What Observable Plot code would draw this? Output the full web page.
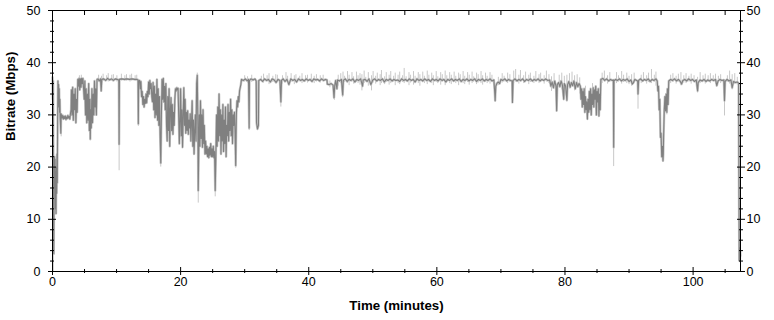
<!DOCTYPE html>
<html>
<head>
<meta charset="utf-8">
<script src="https://cdn.jsdelivr.net/npm/d3@7"></script>
<script src="https://cdn.jsdelivr.net/npm/@observablehq/plot@0.6"></script>
<style>
  html, body { margin: 0; padding: 0; background: #fff; }
  #chart { width: 774px; height: 320px; }
</style>
</head>
<body>
<div id="chart"></div>
<script>
// Smoothed bitrate series: [time (minutes), bitrate (Mbps)]
const bitrate = [
  [0,37.2],[0.05,33],[0.1,36.5],[0.15,14],[0.2,3.4],[0.25,18],[0.3,22],[0.35,16],[0.4,21.5],[0.45,12],
  [0.5,19],[0.55,11.1],[0.6,20],[0.65,15],[0.7,22.5],[0.75,17],[0.8,29],[0.85,36.5],[0.9,32],[0.95,35.8],
  [1.0,31.5],[1.05,35],[1.1,30.5],[1.15,33],[1.2,29.5],[1.3,26.5],[1.35,30.2],
  [1.5,29.4],[1.6,29.9],[1.7,29.2],[1.8,29.7],[1.9,29.3],[2.0,29.8],[2.1,29.1],[2.2,29.6],[2.3,29.3],
  [2.4,29.9],[2.5,29.4],[2.6,29.7],[2.7,29.2],[2.8,30.2],[2.9,31],
  [2.95,34.8],[3.05,30],[3.15,35.3],[3.25,29],[3.35,34],[3.45,31],[3.55,35],[3.65,28.5],[3.75,33],[3.85,30.5],
  [3.95,36.8],[4.05,35.5],[4.15,37],[4.25,34.8],[4.35,36.9],[4.45,35.3],[4.55,37],[4.65,36],[4.75,37],[4.85,35],
  [4.95,33],[5.05,36.5],[5.15,30],[5.25,35],[5.35,28.5],[5.45,34],[5.55,29],[5.65,36],[5.75,27],[5.85,33],
  [5.9,25.4],[5.95,31],[6.05,27.5],[6.15,35],[6.25,28.5],[6.35,34],[6.45,30],[6.55,36.5],[6.65,31.5],[6.75,35],
  [6.85,30],[6.95,36.8],
  [7.1,36.9],[7.3,36.5],[7.5,36.9],[7.6,34.6],[7.7,36.8],[8.0,36.9],[8.3,36.6],[8.6,37],[8.9,36.7],[9.2,36.9],
  [9.5,36.6],[9.8,36.9],[10.1,36.8],[10.35,36.7],[10.4,24.4],[10.45,36.8],[10.8,36.9],[11.2,36.8],[11.6,36.9],
  [12,36.8],[12.4,36.9],[12.8,36.8],[13.2,36.8],[13.35,36.7],[13.4,28.3],[13.45,36.5],
  [13.6,36.6],[13.7,35],[13.8,36.4],[13.9,33.5],[14.0,34.5],[14.1,32],[14.2,33.5],[14.3,31.5],[14.4,33],[14.5,32.2],
  [14.6,34],[14.7,32.3],[14.8,34.5],[14.9,33.5],[15.0,36.3],[15.1,34],[15.2,36.6],[15.3,35],[15.4,36],[15.5,33.5],
  [15.6,32.5],[15.7,36.2],[15.8,31],[15.9,35.5],[16.0,29.5],[16.1,34],[16.2,30],[16.3,36.8],[16.4,29],[16.5,35],
  [16.6,28],[16.7,33.5],[16.8,26],[16.9,20.8],[17.0,30],[17.1,36.8],[17.2,33],[17.3,37],[17.4,32.5],[17.5,35.5],
  [17.6,31],[17.7,36],[17.8,28],[17.9,25],[18.0,33.5],[18.1,27],[18.2,35],[18.3,24],[18.4,31],[18.5,33.3],
  [18.6,27],[18.7,32],[18.8,26.3],[18.9,30.5],[19.0,28],[19.1,33],[19.2,35],[19.3,34.6],[19.4,35.2],[19.5,34.8],
  [19.6,35.1],[19.7,30],[19.8,24.5],[19.9,29],[20.0,35],[20.1,26],[20.2,31],[20.3,23.8],[20.4,30],[20.5,35.2],
  [20.6,28],[20.7,33],[20.8,26.5],[20.9,30.5],[21.0,27],[21.1,30.8],[21.2,26.3],[21.3,29],[21.4,27.5],[21.5,30.2],
  [21.6,25],[21.7,28.5],[21.8,32.7],[21.9,24],[22.0,29],[22.1,22.5],[22.2,27],[22.3,30],[22.4,25],[22.5,36],
  [22.6,37.6],[22.7,28],[22.75,15.5],[22.8,20],[22.9,30],[23.0,24],[23.1,32.7],[23.2,25.5],[23.3,30],[23.4,23.8],
  [23.5,31],[23.6,24.5],[23.7,28],[23.8,22.5],[23.9,25],[24.0,22.5],[24.1,24],[24.2,22],[24.3,23.5],[24.4,21.8],
  [24.5,23.8],[24.6,22.3],[24.7,24.5],[24.8,22],[24.9,23.5],[25.0,22],[25.1,24],[25.2,21.8],[25.3,23],[25.4,15.5],
  [25.5,22],[25.6,30],[25.7,24],[25.8,31.5],[25.9,25],[26.0,34],[26.1,26],[26.2,31],[26.3,22.5],[26.4,30],
  [26.5,25],[26.6,32],[26.7,23],[26.8,29],[26.9,24.5],[27.0,31.5],[27.1,22],[27.2,28],[27.3,26],[27.4,32],
  [27.5,25],[27.6,30.5],[27.7,27],[27.8,33],[27.9,26],[28.0,31],[28.1,24.5],[28.2,30],[28.3,28],[28.4,30.5],
  [28.5,27],[28.6,20.3],[28.7,30],[28.8,32.7],[28.9,31.5],[29.0,33.5],[29.1,32.5],[29.2,34.6],[29.3,35.2],[29.4,35.8],
  [29.5,36.8],[29.8,36.6],[30.1,36.9],[30.4,36.5],[30.6,36.8],[30.7,27.5],[30.75,36.6],[31.0,36.9],[31.3,36.7],[31.6,36.9],
  [31.8,36.5],[31.85,28.5],[32.0,27.3],[32.15,28],[32.2,36.6],[32.5,36.8],[32.8,36.4],[33.1,36.9],[33.4,36.6],[33.7,36.8],
  [34.0,36.3],[34.3,36.9],[34.6,36.7],[34.9,36.2],[35.2,36.8],[35.5,36.6],[35.65,32.5],[35.75,36.6],[36.0,36.9],[36.3,36.4],
  [36.6,36.8],[36.9,35.8],[37.2,36.9],[37.5,36.6],[37.8,36.8],[38.1,36.3],[38.4,36.9],[38.7,36.6],[39.0,36.8],[39.3,36.5],
  [39.6,36.9],[39.9,36.6],[40.2,36.8],[40.5,36.4],[40.8,36.9],[41.1,36.7],[41.4,36.8],[41.7,36.5],[42.0,36.9],[42.3,36.6],
  [42.6,36.8],[42.85,36.7],[42.9,35.9],[43.2,35.8],[43.5,36],[43.8,35.7],[43.95,33.3],[44.05,35.5],[44.2,36.6],[44.4,35],
  [44.5,36.7],[44.8,36.5],[45.1,36.8],[45.3,33.8],[45.4,36.6],[45.7,36.9],[46.0,36.4],[46.3,36.8],[46.6,36.6],[46.9,36.9],
  [47.2,36.3],[47.5,36.8],[47.8,36.6],[48.1,36.9],[48.4,35.5],[48.5,36.7],[48.8,36.8],[49.1,36.4],[49.4,36.9],[49.7,35.8],
  [50.0,36.7],[50.3,36.9],[50.6,36.5],[50.9,36.8],[51.2,36.6],[51.5,36.9],[51.8,36.3],[52.1,36.8],[52.4,36.6],[52.7,36.9],
  [53.0,36.5],[53.3,36.8],[53.6,36.6],[53.9,36.7],[54.2,36.4],[54.5,36.9],[54.8,36.6],[55.1,36.8],[55.4,36.5],[55.7,36.9],
  [56.0,36.6],[56.3,36.8],[56.6,36.3],[56.9,36.9],[57.2,36.6],[57.5,36.8],[57.8,36.5],[58.1,36.9],[58.4,36.6],[58.7,36.8],
  [59.0,36.4],[59.3,36.9],[59.6,36.6],[59.9,36.8],[60.2,36.5],[60.5,36.9],[60.8,36.6],[61.1,36.8],[61.4,36.3],[61.7,36.8],
  [62.0,36.6],[62.3,36.9],[62.6,36.5],[62.9,36.8],[63.2,36.6],[63.5,36.9],[63.8,36.4],[64.1,36.8],[64.4,36.6],[64.7,36.9],
  [65.0,36.5],[65.3,36.8],[65.6,36.6],[65.9,36.9],[66.2,36.4],[66.5,36.8],[66.8,36.6],[67.1,36.9],[67.4,36.5],[67.7,36.8],
  [68.0,36.6],[68.3,36.9],[68.6,36.5],[68.9,36.7],[69.05,34],[69.1,32.7],[69.2,35.5],[69.4,36.1],[69.6,36.3],[69.8,36.0],
  [70.0,36.8],[70.3,36.6],[70.6,36.9],[70.9,36.5],[71.2,36.8],[71.5,36.6],[71.75,36.5],[71.8,32.4],[71.9,36.6],[72.2,36.9],
  [72.5,36.5],[72.8,36.8],[73.1,36.6],[73.4,36.9],[73.7,36.4],[74.0,36.8],[74.3,36.6],[74.6,36.9],[74.9,36.5],[75.2,36.8],
  [75.5,36.6],[75.8,36.9],[76.1,36.5],[76.4,36.8],[76.7,36.6],[77.0,36.9],[77.3,36.6],[77.6,36.7],[77.8,35.5],[78.0,36.3],
  [78.2,35.2],[78.4,36.5],[78.6,35.5],[78.7,30.8],[78.8,35.8],[79.0,36.2],[79.2,35.4],[79.4,36.5],[79.6,35.7],[79.8,33],
  [79.9,36],[80.1,35.5],[80.3,32.8],[80.4,35.8],[80.6,36.4],[80.8,35.3],[81.0,36.2],[81.2,35.6],[81.4,36.5],[81.6,35],
  [81.8,36.2],[82.0,35.4],[82.2,36],[82.4,35.5],[82.5,33],[82.6,35],[82.7,31.5],[82.8,34.5],[82.9,32],[83.0,35],
  [83.1,30.5],[83.2,33.5],[83.3,31],[83.4,32.5],[83.5,29.2],[83.6,33],[83.7,30.5],[83.8,34.5],[83.9,31],[84.0,35],
  [84.1,30],[84.2,34],[84.3,32],[84.4,35.2],[84.5,31.5],[84.6,34.8],[84.7,33],[84.8,35.5],[84.9,30],[85.0,34.5],
  [85.1,32.5],[85.2,35],[85.3,29.8],[85.4,34],[85.5,31],[85.6,36.8],[85.9,37],[86.2,36.6],[86.5,36.9],[86.8,36.5],
  [87.1,36.8],[87.4,36.6],[87.55,36.7],[87.6,23.8],[87.65,36.5],[87.9,36.8],[88.2,36.6],[88.5,36.9],[88.8,36.5],[89.1,36.8],
  [89.4,36.6],[89.7,36.9],[90.0,36.4],[90.3,36.7],[90.5,35.9],[90.7,36.2],[90.9,36.8],[91.2,36.6],[91.35,36.5],[91.4,34],
  [91.5,36.6],[91.8,36.9],[92.1,36.5],[92.4,36.8],[92.7,36.6],[93.0,36.9],[93.3,36.4],[93.6,36.8],[93.9,36.6],[94.2,36.9],
  [94.4,36.5],[94.5,34.6],[94.6,35.5],[94.7,31],[94.8,33],[94.9,25.7],[95.0,26.5],[95.1,22],[95.2,24],[95.3,21.2],
  [95.35,22.5],[95.4,26],[95.5,31],[95.6,33.5],[95.7,30.8],[95.8,34],[95.9,30.5],[96.0,35],[96.1,32],[96.2,36.5],
  [96.5,36.8],[96.8,36.6],[97.1,36.9],[97.4,36.5],[97.7,36.8],[98.0,36.4],[98.2,35.9],[98.4,36.6],[98.7,36.8],[99.0,36.5],
  [99.3,36.9],[99.6,36.6],[99.9,36.8],[100.2,36.4],[100.5,36.7],[100.7,34.6],[100.8,36.2],[101.1,36.7],[101.4,36.5],[101.7,36.8],
  [102.0,36.4],[102.3,36.7],[102.6,36.5],[102.9,36.8],[103.2,36.6],[103.5,36.8],[103.7,35.6],[103.9,36.5],[104.2,36.8],[104.5,36.6],
  [104.8,36.7],[104.9,32.7],[105.0,36.4],[105.3,36.8],[105.6,36.5],[105.9,36.7],[106.1,35.2],[106.3,36.4],[106.6,36.2],[106.9,36.3],
  [107.1,36.1],[107.2,2.1],[107.25,4.6],[107.3,2],[107.35,4],[107.4,3]
];

// Raw (unsmoothed) excursions: [time (minutes), low (Mbps), high (Mbps)]
const rawSpikes = [
  [0.12,0,5],[1.35,25.8,30],[5.9,25,28],[10.4,19.3,26],[13.4,27.8,30],[16.9,20,23],[22.75,13.1,17],[25.4,14.3,17],
  [28.6,19.8,22],[30.7,27,30],[32.0,27,29],[35.65,31.5,34],[44.0,32.8,35],[45.3,33.3,35],
  [4.2,36,37.5],[4.5,36,37.6],[22.6,36.5,38],
  [7.2,36.3,37.6],[7.65,36,37.4],[7.9,36.4,37.8],[8.45,36.5,37.5],[8.7,36.3,37.9],[9.25,36.5,37.6],[9.5,36.4,37.7],
  [10.05,36.3,37.5],[10.75,36.5,37.8],[11.3,36.4,37.5],[11.55,36.5,37.7],[12.1,36.3,37.6],[12.35,36.5,37.8],[12.9,36.4,37.5],[13.15,36.5,37.6],
  [30.0,36.3,37.5],[30.45,36,37.3],[31.1,36.2,37.6],[32.6,36.4,37.4],[32.95,36.1,37.8],[33.5,36.3,37.5],[33.8,35.8,37.9],[34.4,36.2,37.4],
  [34.85,36,37.7],[35.1,36.4,37.6],[35.9,35.9,37.5],[36.45,36.2,38.1],[36.7,36,37.4],[37.25,36.3,37.9],[37.75,35.8,37.5],[38.0,36.2,37.7],
  [38.6,36.4,37.4],[38.95,36,37.9],[39.5,36.3,37.5],[39.8,36.1,37.6],[40.4,36.4,37.8],[40.85,36,37.4],[41.2,36.3,37.7],[41.8,36.1,37.5],
  [42.25,36.4,37.6],[43.3,35.2,36.5],[44.6,35.5,37.6],
  [45.0,36,37.9],[45.35,35.9,38.2],[45.6,36.2,37.4],[46.05,36,38.3],[46.3,35.6,37.6],[46.75,36.3,38.1],[47.0,35.9,37.3],[47.45,36.2,38.2],
  [47.7,36,37.5],[48.0,35.7,37.9],[48.3,34.6,37.7],[48.65,36,38.4],[48.9,36.3,37.2],[49.3,35.5,38.1],[49.8,34.6,37.5],[50.05,36.1,38.3],
  [50.45,35.9,37.4],[50.7,36.3,38],[51.15,35.6,37.7],[51.35,36,38.5],[51.85,35.8,37.3],[52.1,36.2,38.1],[52.55,35.7,37.6],[52.8,36,38.3],
  [53.25,36.3,37.4],[53.5,35.6,38],[53.95,36,37.6],[54.2,35.8,38.2],[54.65,36.2,37.5],[54.9,36,38.9],[55.2,36.3,37.3],[55.65,35.6,38.1],
  [55.9,36.1,37.6],[56.35,35.7,38.3],[56.6,36.3,37.4],[57.1,36,38.1],[57.35,35.5,37.7],[57.8,36.2,38.2],[58.05,36,37.4],[58.5,35.8,38.4],
  [58.75,36.3,37.6],[59.2,36,38],[59.45,35.6,37.5],[59.9,36.2,38.3],[60.15,36,37.3],[60.6,35.7,38.1],[60.85,36.3,37.7],[61.3,35.6,38.4],
  [61.55,36.2,37.5],[62.0,36,38.1],[62.25,35.8,37.6],[62.7,36.2,38.2],[62.95,36,37.4],[63.4,35.6,38],[63.65,36.3,37.7],[64.1,36,38.3],
  [64.35,35.8,37.4],[64.8,36.2,38.1],[65.05,35.7,37.6],[65.5,36,38.2],[65.75,36.3,37.3],[66.2,35.8,38],[66.45,36.1,37.7],[66.9,36,38.3],
  [67.15,35.7,37.5],[67.6,36.2,38],[67.85,36,37.4],[68.3,35.9,38.1],[68.6,36.2,37.6],[69.6,35.6,37.2],
  [70.2,36.1,37.9],[70.5,36.3,37.4],[71.05,36,38],[71.4,36.2,37.7],[72.0,36,38.4],[72.3,36.3,38.7],[72.8,35.9,37.6],[73.05,36.2,38.5],
  [73.55,36,37.5],[73.85,36.3,38.2],[74.35,35.8,37.6],[74.6,36.2,38],[75.15,36,37.4],[75.45,36.3,38.3],[75.95,36,37.7],[76.2,36.2,38],
  [76.75,35.9,37.5],[77.1,36.3,38.4],[77.5,36,37.7],[77.9,34.5,37.3],[78.3,35,37.9],[78.7,30.5,35],[79.1,35.3,37.6],[79.5,34.8,38],
  [79.9,35.2,37.4],[80.3,32.5,37.6],[80.7,35,37.9],[81.1,35.4,38.2],[81.5,34.6,37.5],[81.9,35.2,37.7],[82.3,34,37.1],[83.2,31,35.5],
  [84.3,31.5,36],[85.8,36,38],[86.15,36.3,38.4],[86.65,35.9,37.5],[87.0,36.2,38.1],[87.6,20.1,26],[88.05,36,38.1],[88.35,36.3,37.5],
  [88.85,35.9,38.3],[89.15,36.2,37.6],[89.65,36,38],[90.0,35.8,37.4],[90.4,35.5,37.7],[90.8,36.2,38],[91.4,31.1,35],[91.9,36,37.6],
  [92.25,36.3,38.1],[92.75,35.9,37.5],[93.05,36.2,38],[93.5,36,38.7],[93.95,36.3,37.6],[94.2,35.5,38.2],[95.3,21,23],[95.9,30,35],
  [96.5,36,37.6],[96.85,36.2,37.9],[97.35,35.9,37.4],[97.7,36.3,37.8],[98.1,35.6,38.1],[98.55,36.1,37.5],[98.9,36,37.9],[99.35,36.3,37.4],
  [99.7,35.9,37.8],[100.15,36.2,37.5],[100.7,34.2,37.2],[101.1,36,38.1],[101.55,36.3,37.5],[101.9,35.9,37.8],[102.35,36.2,37.5],[102.7,36,37.9],
  [103.15,36.3,37.5],[103.5,35.8,37.8],[103.95,36.2,37.4],[104.3,36,37.7],[104.9,29.8,35],[105.35,36.3,37.5],[105.7,35.9,38.4],[106.1,34.8,37.7],
  [106.5,35.8,37.9],[106.9,35.7,37.2]
];

const xDomain = [0, 107.4];
const yDomain = [0, 50];
const xMajorTicks = [0, 20, 40, 60, 80, 100];
const xMinorTicks = [5, 10, 15, 25, 30, 35, 45, 50, 55, 65, 70, 75, 85, 90, 95, 105];
const xTopTicks = [0, 5, 10, 15, 20, 25, 30, 35, 40, 45, 50, 55, 60, 65, 70, 75, 80, 85, 90, 95, 100, 105];
const yMajorTicks = [0, 10, 20, 30, 40, 50];
const yMinorTicks = [2, 4, 6, 8, 12, 14, 16, 18, 22, 24, 26, 28, 32, 34, 36, 38, 42, 44, 46, 48];
const xTitle = "Time (minutes)";
const yTitle = "Bitrate (Mbps)";

const series = bitrate.map(([t, v]) => ({t, v}));
const spikes = rawSpikes.map(([t, lo, hi]) => ({t, lo, hi}));

const font = "'Liberation Sans', Arial, sans-serif";
const noLab = {label: null};

const chart = Plot.plot({
  width: 774,
  height: 320,
  marginLeft: 52,
  marginRight: 34,
  marginTop: 10,
  marginBottom: 49,
  style: {fontFamily: font, fontSize: "12.5px", background: "#fff", color: "#000"},
  x: {domain: xDomain},
  y: {domain: yDomain},
  marks: [
    Plot.ruleX(spikes, {x: "t", y1: "lo", y2: "hi", stroke: "#c8c8c8", strokeWidth: 1}),
    Plot.line(series, {x: "t", y: "v", stroke: "#c8c8c8", strokeWidth: 2.4}),
    Plot.line(series, {x: "t", y: "v", stroke: "#808080", strokeWidth: 1.1}),
    Plot.frame({stroke: "#000"}),
    // left axis ticks (crossing the axis line)
    Plot.axisY(yMajorTicks, {anchor: "left", tickSize: 8, dx: 4, fill: "none", ...noLab}),
    Plot.axisY(yMinorTicks, {anchor: "left", tickSize: 4, dx: 2, fill: "none", ...noLab}),
    Plot.axisY(yMajorTicks, {anchor: "left", tickSize: 0, tickPadding: 12, ...noLab}),
    // right axis
    Plot.axisY(yMajorTicks, {anchor: "right", tickSize: 8, dx: -4, fill: "none", ...noLab}),
    Plot.axisY(yMinorTicks, {anchor: "right", tickSize: 4, dx: -2, fill: "none", ...noLab}),
    Plot.axisY(yMajorTicks, {anchor: "right", tickSize: 0, tickPadding: 6, ...noLab}),
    // bottom axis
    Plot.axisX(xMajorTicks, {anchor: "bottom", tickSize: 8, dy: -4, fill: "none", ...noLab}),
    Plot.axisX(xMinorTicks, {anchor: "bottom", tickSize: 4, dy: -2, fill: "none", ...noLab}),
    Plot.axisX(xMajorTicks, {anchor: "bottom", tickSize: 0, tickPadding: 6, ...noLab}),
    // top axis ticks (inward)
    Plot.axisX(xTopTicks, {anchor: "top", tickSize: 4, dy: 4, fill: "none", ...noLab}),
    // titles
    Plot.text([xTitle], {frameAnchor: "bottom", dy: 38, fontWeight: "bold", fontSize: 13.3, fill: "#000"}),
    Plot.text([yTitle], {frameAnchor: "left", dx: -42, rotate: -90, fontWeight: "bold", fontSize: 13.3, fill: "#000"})
  ]
});

document.getElementById("chart").appendChild(chart);
</script>
</body>
</html>
